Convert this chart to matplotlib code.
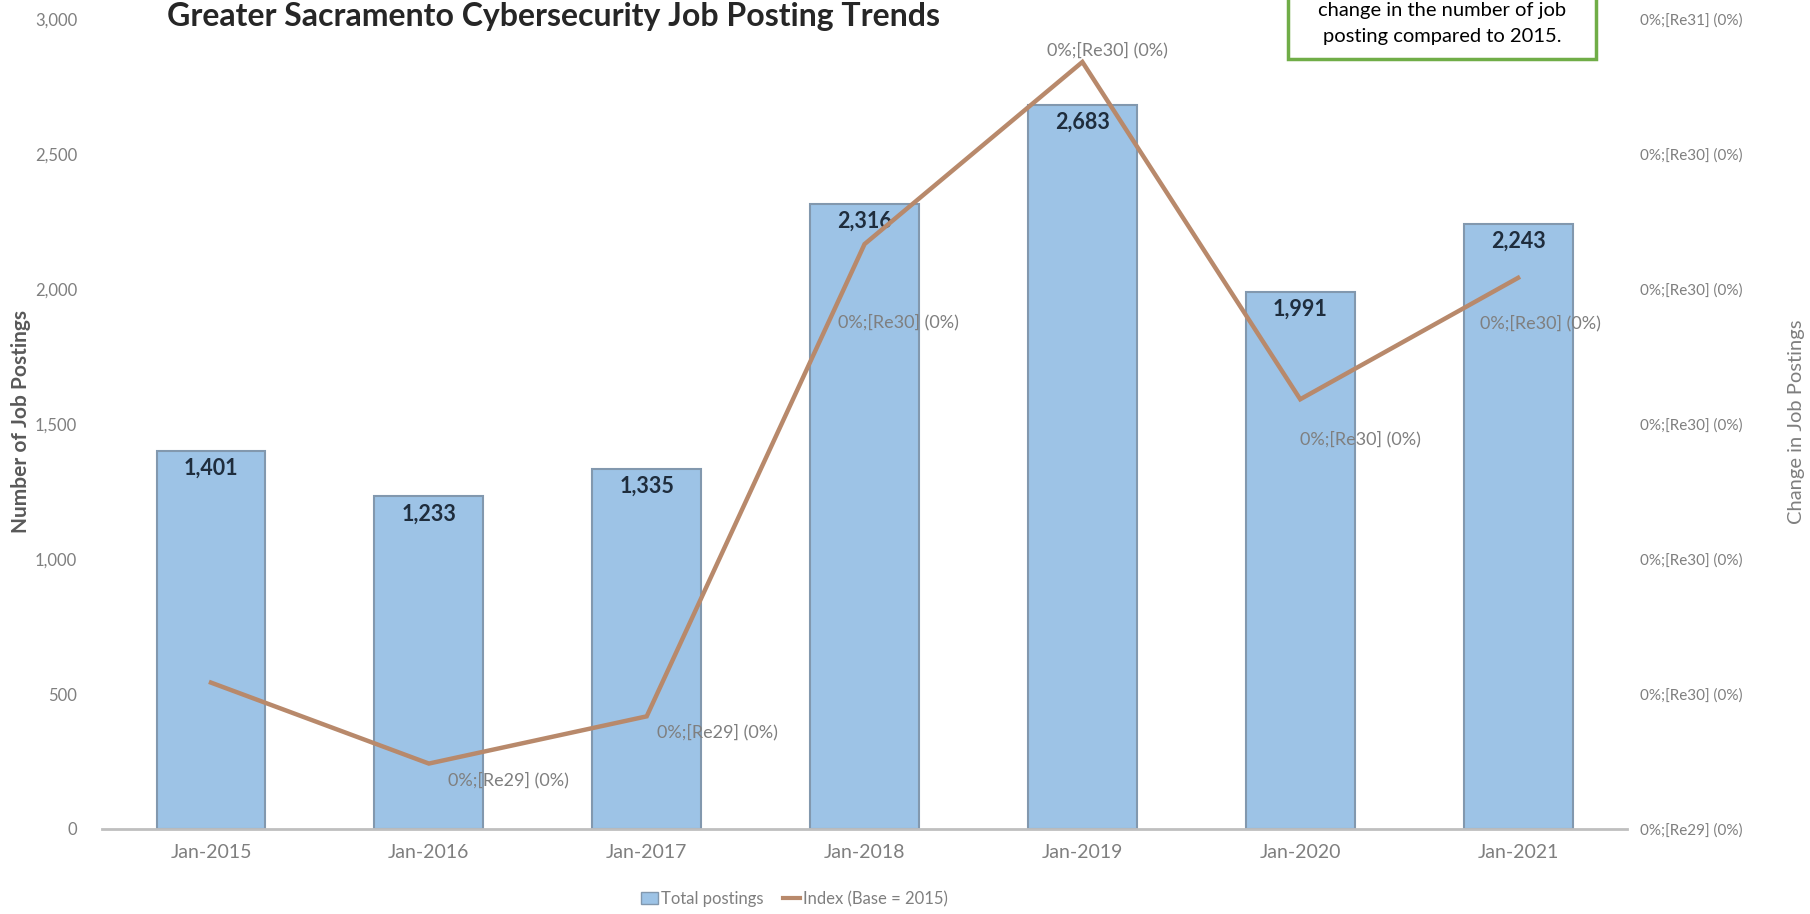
import matplotlib
matplotlib.use("Agg")
import matplotlib.pyplot as plt
from matplotlib.patches import Rectangle, Patch
from matplotlib.lines import Line2D

plt.rcParams["font.family"] = ["Lato", "DejaVu Sans"]

# ── Data ──────────────────────────────────────────────────────────────────────
periods = ["Jan-2015", "Jan-2016", "Jan-2017", "Jan-2018", "Jan-2019", "Jan-2020", "Jan-2021"]
postings = [1401, 1233, 1335, 2316, 2683, 1991, 2243]
index_vals = [1.00, 0.88, 0.95, 1.65, 1.92, 1.42, 1.60]   # relative to 2015
index_labels = ["", "0%;[Re29] (0%)", "0%;[Re29] (0%)", "0%;[Re30] (0%)",
                "0%;[Re30] (0%)", "0%;[Re30] (0%)", "0%;[Re30] (0%)"]
left_ticks = [0, 500, 1000, 1500, 2000, 2500, 3000]
right_ticks = [0.783, 0.983, 1.183, 1.383, 1.583, 1.783, 1.983]
right_tick_labels = ["0%;[Re29] (0%)", "0%;[Re30] (0%)", "0%;[Re30] (0%)", "0%;[Re30] (0%)",
                     "0%;[Re30] (0%)", "0%;[Re30] (0%)", "0%;[Re31] (0%)"]

BAR_COLOR = "#9DC3E6"
BAR_EDGE = "#8298AE"
LINE_COLOR = "#B8896B"
GRAY = "#7F7F7F"

# label offsets (pixels) for the index data labels
label_offsets = [(0, 0), (80, -17), (71, -16), (34, -78), (25, 12), (60, -40), (22, -45)]

# ── Plot ──────────────────────────────────────────────────────────────────────
fig = plt.figure(figsize=(18.10, 9.14), dpi=100)
ax1 = fig.add_axes([0.0564, 0.093, 0.8425, 0.8857])
ax2 = ax1.twinx()

x = list(range(len(periods)))
ax1.bar(x, postings, width=0.5, color=BAR_COLOR, edgecolor=BAR_EDGE, linewidth=1.5, zorder=2)
ax1.set_xlim(-0.5, 6.5)
ax1.set_ylim(0, 3000)
ax1.set_yticks(left_ticks)
ax1.set_yticklabels([f"{v:,}" for v in left_ticks])
ax1.set_xticks(x)
ax1.set_xticklabels(periods)
ax1.tick_params(axis="both", length=0, colors=GRAY)
ax1.tick_params(axis="x", pad=11, labelsize=14)
ax1.tick_params(axis="y", pad=18, labelsize=12)
for s in ["top", "right", "left"]:
    ax1.spines[s].set_visible(False)
ax1.spines["bottom"].set_color("#BFBFBF")
ax1.spines["bottom"].set_linewidth(2)

for xi, v in zip(x, postings):
    ax1.annotate(f"{v:,}", (xi, v), xytext=(0, -7), textcoords="offset pixels",
                 ha="center", va="top", fontsize=15.5, fontweight="bold", color="#1F2D3D")

ax2.plot(x, index_vals, color=LINE_COLOR, linewidth=3.2, solid_joinstyle="miter")
ax2.set_ylim(0.783, 1.983)
ax2.set_yticks(right_ticks)
ax2.set_yticklabels(right_tick_labels)
ax2.tick_params(axis="y", length=0, colors=GRAY, labelsize=11, pad=9)
for s in ["top", "right", "left", "bottom"]:
    ax2.spines[s].set_visible(False)

for xi, v, lab, off in zip(x, index_vals, index_labels, label_offsets):
    if lab:
        ax2.annotate(lab, (xi, v), xytext=off, textcoords="offset pixels",
                     ha="center", va="center", fontsize=13, color=GRAY)

fig.text(0.0116, 0.539, "Number of Job Postings", rotation=90, ha="center", va="center",
         fontsize=15, fontweight="bold", color="#595959")
fig.text(0.9928, 0.539, "Change in Job Postings", rotation=90, ha="center", va="center",
         fontsize=14.5, color=GRAY)

fig.text(0.306, 0.972, "Greater Sacramento Cybersecurity Job Posting Trends",
         ha="center", va="baseline", fontsize=23, fontweight="bold", color="#262626")

# note box (top right, cut by the top edge)
fig.patches.append(Rectangle((0.7116, 0.9354), 0.1702, 0.1, transform=fig.transFigure,
                             facecolor="white", edgecolor="#70AD47", linewidth=2.5))
fig.text(0.7967, 0.989, "change in the number of job", ha="center", va="center",
         fontsize=14.5, color="black")
fig.text(0.7967, 0.960, "posting compared to 2015.", ha="center", va="center",
         fontsize=14.5, color="black")

handles = [Patch(facecolor=BAR_COLOR, edgecolor=BAR_EDGE, label="Total postings"),
           Line2D([0], [0], color=LINE_COLOR, linewidth=3, label="Index (Base = 2015)")]
fig.legend(handles=handles, loc="center", bbox_to_anchor=(0.439, 0.0165), ncol=2,
           frameon=False, fontsize=12, labelcolor=GRAY, handlelength=1.0,
           handletextpad=0.2, columnspacing=1.2)

fig.savefig("out.png", dpi=100)
